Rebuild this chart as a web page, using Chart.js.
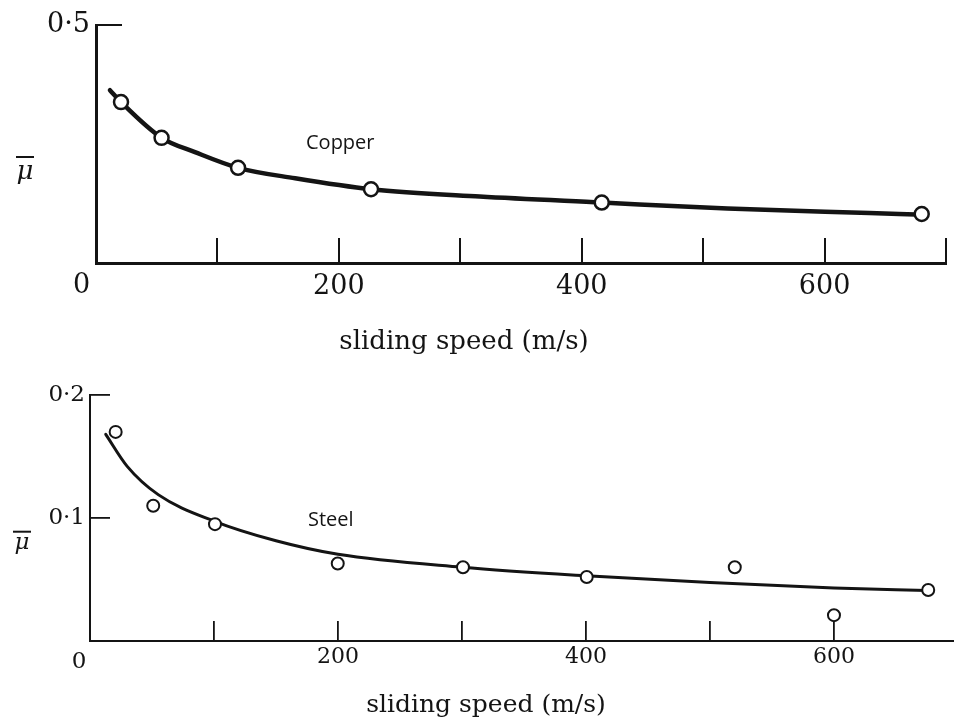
<!DOCTYPE html>
<html>
<head>
<meta charset="utf-8">
<title>Friction coefficient against sliding speed</title>
<script src="https://cdn.jsdelivr.net/npm/chart.js@4/dist/chart.umd.min.js"></script>
<style>
  html, body { margin: 0; padding: 0; background: #fff; }
  #wrap { position: relative; width: 954px; height: 720px; overflow: hidden; }
  #wrap canvas { position: absolute; left: 0; }
</style>
</head>
<body>
<div id="wrap">
  <canvas id="copperChart" width="954" height="360" style="top:0"></canvas>
  <canvas id="steelChart" width="954" height="360" style="top:360px"></canvas>
</div>
<script>
// ---- Copper: measured points (m/s, mean friction coefficient) ----
const copperSpeed = [20.6, 54, 117, 226.5, 416.5, 680];
const copperMu    = [0.338, 0.263, 0.200, 0.155, 0.127, 0.103];
// hand-drawn trend curve through the copper points
const copperCurveSpeed = [11.5, 20.6, 54, 81.5, 117, 164, 226.5, 316, 416.5, 520, 637, 675];
const copperCurveMu    = [0.363, 0.338, 0.263, 0.233, 0.200, 0.178, 0.155, 0.1395, 0.127, 0.1145, 0.105, 0.102];

// ---- Steel: measured points ----
const steelSpeed = [20.7, 51, 100.8, 199.8, 300.8, 400.6, 520, 600, 676];
const steelMu    = [0.170, 0.110, 0.095, 0.063, 0.060, 0.052, 0.060, 0.021, 0.0415];
// trend curve through the steel points
const steelCurveSpeed = [12.7, 30, 55, 100, 150, 200, 300, 400, 500, 600, 675];
const steelCurveMu    = [0.168, 0.142, 0.119, 0.0975, 0.0815, 0.0705, 0.060, 0.053, 0.0475, 0.043, 0.041];

// ---- axis ticks ----
const copperSpeedTicks = [0, 100, 200, 300, 400, 500, 600, 700];
const steelSpeedTicks  = [0, 100, 200, 300, 400, 500, 600];
const labelledSpeeds   = [200, 400, 600];
const copperMuTicks    = [0, 0.5];
const steelMuTicks     = [0, 0.1, 0.2];

const INK = '#141414';
const SERIF = "'DejaVu Serif', 'Liberation Serif', serif";
const SANS = "'Open Sans', 'Noto Sans', sans-serif";

const xy = (xs, ys) => xs.map((x, i) => ({ x: x, y: ys[i] }));
const muText = v => (v === 0 ? '' : v.toFixed(1).replace('.', '\u00B7'));

// keep the plot frame fixed: no extra room reserved for edge labels
function noEdgePadding(s) {
  s.paddingTop = 0;
  s.paddingBottom = 0;
  s.paddingLeft = 0;
  s.paddingRight = 0;
}

// Free-standing text: origin "0", the mu-bar symbol, series names, axis caption
const panelText = {
  id: 'panelText',
  afterDraw(chart, args, opts) {
    const ctx = chart.ctx;
    ctx.save();
    ctx.fillStyle = INK;
    ctx.strokeStyle = INK;
    (opts.items || []).forEach(it => {
      ctx.font = it.font;
      ctx.textAlign = it.align || 'left';
      ctx.textBaseline = 'alphabetic';
      ctx.fillText(it.text, it.x, it.y);
      if (it.bar) {
        ctx.lineWidth = it.bar.w;
        ctx.beginPath();
        ctx.moveTo(it.bar.x1, it.bar.y);
        ctx.lineTo(it.bar.x2, it.bar.y);
        ctx.stroke();
      }
    });
    ctx.restore();
  }
};

function makeChart(id, cfg) {
  return new Chart(document.getElementById(id), {
    type: 'scatter',
    data: {
      datasets: [
        {
          data: xy(cfg.speed, cfg.mu),
          showLine: false,
          pointStyle: 'circle',
          pointRadius: cfg.pointRadius,
          pointBorderWidth: cfg.pointBorder,
          pointBackgroundColor: '#ffffff',
          pointBorderColor: INK,
          clip: false
        },
        {
          data: xy(cfg.curveSpeed, cfg.curveMu),
          showLine: true,
          cubicInterpolationMode: 'monotone',
          borderColor: INK,
          borderWidth: cfg.curveWidth,
          borderCapStyle: 'round',
          borderJoinStyle: 'round',
          pointRadius: 0,
          fill: false
        }
      ]
    },
    options: {
      responsive: false,
      animation: false,
      events: [],
      layout: { padding: cfg.padding, autoPadding: false },
      plugins: {
        legend: { display: false },
        tooltip: { enabled: false },
        panelText: { items: cfg.texts }
      },
      scales: {
        x: {
          type: 'linear',
          position: 'bottom',
          min: 0,
          max: cfg.xMax,
          afterBuildTicks: s => { s.ticks = cfg.xTicks.map(v => ({ value: v })); },
          afterFit: s => { s.height = cfg.xHeight; noEdgePadding(s); },
          border: { display: true, color: INK, width: cfg.axisWidth },
          grid: {
            display: true,
            drawOnChartArea: false,
            drawTicks: true,
            tickLength: -cfg.xTickLen,
            color: INK,
            lineWidth: cfg.tickWidth
          },
          ticks: {
            autoSkip: false,
            maxRotation: 0,
            includeBounds: false,
            padding: cfg.xPad,
            color: INK,
            font: { family: SERIF, size: cfg.xFont },
            callback: v => (labelledSpeeds.includes(v) ? String(v) : '')
          }
        },
        y: {
          type: 'linear',
          position: 'left',
          min: 0,
          max: cfg.yMax,
          afterBuildTicks: s => { s.ticks = cfg.yTicks.map(v => ({ value: v })); },
          afterFit: s => { s.width = cfg.yWidth; noEdgePadding(s); },
          border: { display: true, color: INK, width: cfg.axisWidth },
          grid: {
            display: true,
            drawOnChartArea: false,
            drawTicks: true,
            tickLength: -cfg.yTickLen,
            color: INK,
            lineWidth: cfg.tickWidth
          },
          ticks: {
            autoSkip: false,
            padding: cfg.yPad,
            color: INK,
            font: { family: SERIF, size: cfg.yFont },
            callback: v => muText(v)
          }
        }
      }
    },
    plugins: [panelText]
  });
}

// Upper panel: copper
makeChart('copperChart', {
  speed: copperSpeed, mu: copperMu,
  curveSpeed: copperCurveSpeed, curveMu: copperCurveMu,
  pointRadius: 7, pointBorder: 2.5, curveWidth: 4.5,
  padding: { top: 25, left: 0, right: 8, bottom: 0 },
  xMax: 700, xTicks: copperSpeedTicks, xHeight: 97, xTickLen: 25, xPad: 33, xFont: 27,
  yMax: 0.5, yTicks: copperMuTicks, yWidth: 96, yTickLen: 26, yPad: 32, yFont: 27,
  axisWidth: 3, tickWidth: 2,
  texts: [
    { text: '0', x: 81.5, y: 293, font: '27px ' + SERIF, align: 'center' },
    { text: '\u03BC', x: 25, y: 178.5, font: 'italic 26px ' + SERIF, align: 'center',
      bar: { x1: 16, x2: 34, y: 157, w: 2 } },
    { text: 'Copper', x: 306, y: 149, font: '20px ' + SANS, align: 'left' },
    { text: 'sliding speed (m/s)', x: 464, y: 349, font: '26px ' + SERIF, align: 'center' }
  ]
});

// Lower panel: steel
makeChart('steelChart', {
  speed: steelSpeed, mu: steelMu,
  curveSpeed: steelCurveSpeed, curveMu: steelCurveMu,
  pointRadius: 6, pointBorder: 2, curveWidth: 3,
  padding: { top: 35, left: 0, right: 0, bottom: 0 },
  xMax: 696.8, xTicks: steelSpeedTicks, xHeight: 79, xTickLen: 20, xPad: 23, xFont: 22,
  yMax: 0.2, yTicks: steelMuTicks, yWidth: 90, yTickLen: 20, yPad: 25, yFont: 23,
  axisWidth: 2, tickWidth: 1.8,
  texts: [
    { text: '0', x: 79, y: 308.3, font: '23px ' + SERIF, align: 'center' },
    { text: '\u03BC', x: 22, y: 188.5, font: 'italic 23px ' + SERIF, align: 'center',
      bar: { x1: 13, x2: 31, y: 171.7, w: 2 } },
    { text: 'Steel', x: 308, y: 166, font: '20px ' + SANS, align: 'left' },
    { text: 'sliding speed (m/s)', x: 486, y: 351.5, font: '25px ' + SERIF, align: 'center' }
  ]
});
</script>
</body>
</html>
